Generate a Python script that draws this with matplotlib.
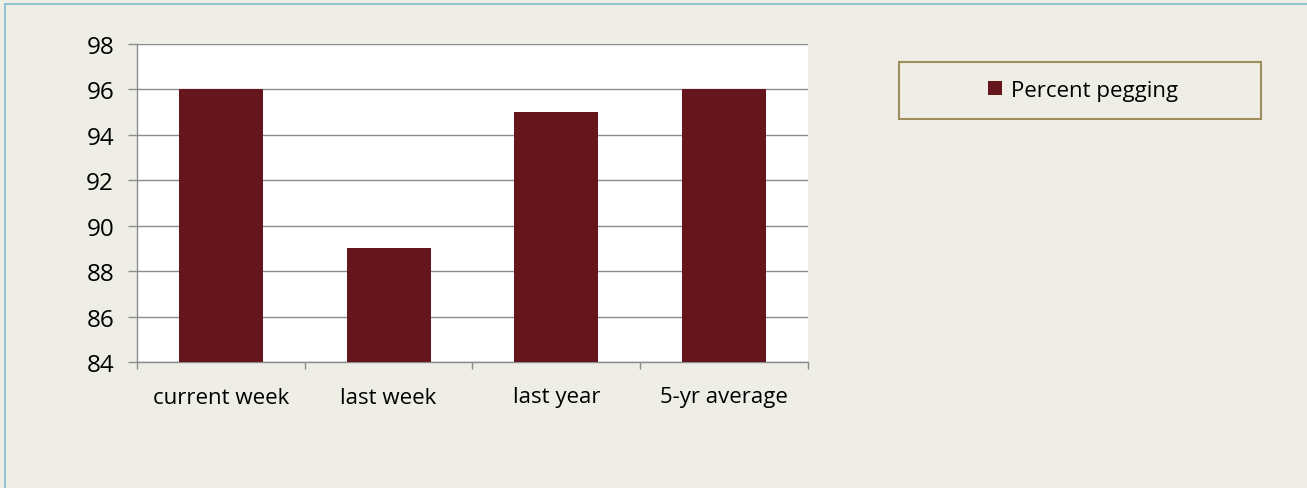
import matplotlib
import matplotlib.pyplot as plt
from matplotlib.patches import Rectangle
from matplotlib.lines import Line2D

matplotlib.use('Agg')

categories = ['current week', 'last week', 'last year', '5-yr average']
percent_pegging = [96, 89, 95, 96]
y_ticks = [84, 86, 88, 90, 92, 94, 96, 98]

W, H = 1307, 489
bg = '#EFEEE6'
bar_color = '#64161C'
grid_color = '#8C8C8C'
fs = 16

plt.rcParams['font.family'] = ['Open Sans', 'DejaVu Sans']

fig = plt.figure(figsize=(W / 100, H / 100), dpi=100, facecolor=bg)
ax = fig.add_axes([137 / W, 1 - 363 / H, (808 - 137) / W, (363 - 45) / H])
ax.set_facecolor('white')

x = range(len(categories))
ax.bar(x, percent_pegging, width=0.5, color=bar_color, zorder=3, label='Percent pegging')

ax.set_ylim(84, 98)
ax.set_xlim(-0.5, len(categories) - 0.5)
ax.set_yticks(y_ticks)
ax.set_yticklabels([str(v) for v in y_ticks], fontsize=17.5)
ax.yaxis.grid(True, color=grid_color, linewidth=1, zorder=0)
ax.tick_params(axis='y', length=6.5, color=grid_color, width=1, pad=10)

# category labels centred, ticks on boundaries
ax.set_xticks([i + 0.5 for i in range(-1, len(categories))])
ax.set_xticklabels([])
ax.tick_params(axis='x', length=5, color=grid_color, width=1, direction='out')
for i, c in enumerate(categories):
    ax.annotate(c, xy=(i, 0), xycoords=('data', 'axes fraction'),
                xytext=(0, -35 * 0.72), textcoords='offset points',
                ha='center', va='center', fontsize=fs, color='black')

for side in ['top', 'right']:
    ax.spines[side].set_visible(False)
for side in ['left', 'bottom']:
    ax.spines[side].set_color(grid_color)
    ax.spines[side].set_linewidth(1)

# legend box
fig.patches.append(Rectangle((899 / W, 1 - 120 / H), (1261 - 899) / W, (120 - 63) / H,
                             transform=fig.transFigure, facecolor='none',
                             edgecolor='#9C8E5C', linewidth=1.5))
handles, labels = ax.get_legend_handles_labels()
fig.legend(handles, labels, loc='center', bbox_to_anchor=(1083 / W, 1 - 91.5 / H),
           frameon=False, fontsize=fs, handlelength=0.62, handleheight=0.62,
           handletextpad=0.4)

# outer border (top and left)
fig.lines.append(Line2D([5 / W, 1], [1 - 5 / H, 1 - 5 / H], transform=fig.transFigure,
                        color='#80BCCF', linewidth=1.2))
fig.lines.append(Line2D([5 / W, 5 / W], [0, 1 - 5 / H], transform=fig.transFigure,
                        color='#80BCCF', linewidth=1.2))

fig.savefig('out.png', dpi=100, facecolor=bg)
